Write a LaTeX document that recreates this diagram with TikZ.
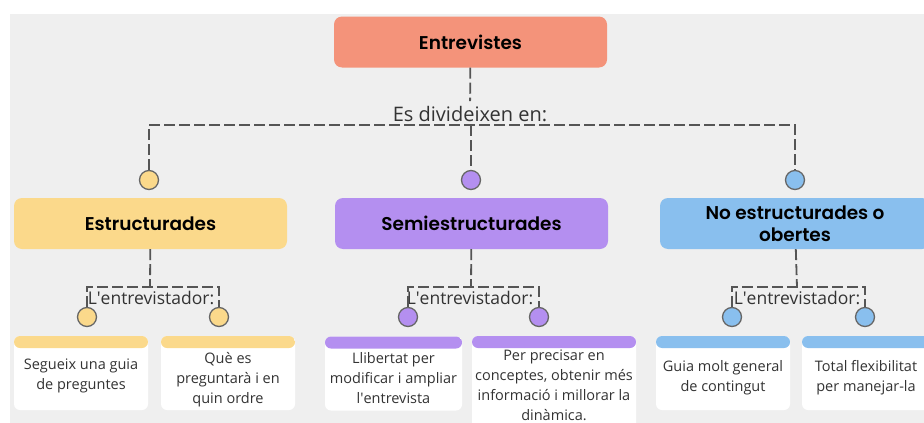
\documentclass[tikz,border=0pt]{standalone}
\usepackage{fontspec}
\setmainfont{Open Sans}
\newfontfamily\titlefont{Poppins}[UprightFont=* SemiBold]
\usetikzlibrary{positioning}

\definecolor{rootcol}{HTML}{F4937A}
\definecolor{yelcol}{HTML}{FBD98B}
\definecolor{purcol}{HTML}{B48FF0}
\definecolor{blucol}{HTML}{89BFEE}
\definecolor{bggray}{HTML}{EFEFEF}
\definecolor{linegray}{HTML}{555555}
\definecolor{dotline}{HTML}{666666}
\definecolor{textdark}{HTML}{333333}

\tikzset{
  conn/.style={draw=linegray, line width=1.8pt, dash pattern=on 11pt off 4pt},
  titlebox/.style={rounded corners=8pt, minimum width=273pt, minimum height=51pt, align=center,
    font=\titlefont\fontsize{18.5}{22}\selectfont, text=black, inner sep=0pt},
  dot/.style={circle, draw=dotline, line width=1.3pt, minimum size=19pt, inner sep=0pt},
  leafbox/.style={fill=white, rounded corners=6pt, inner sep=0pt, minimum height=74pt,
    path picture={\fill[#1] (path picture bounding box.north west) rectangle ([yshift=-12pt]path picture bounding box.north east);}},
  leaftext/.style={align=center, text=textdark, font=\fontsize{14.5}{20}\selectfont, inner sep=0pt},
  sublabel/.style={text=textdark, font=\fontsize{17.5}{20}\selectfont, inner sep=0pt},
}

\begin{document}
\begin{tikzpicture}[x=1pt,y=-1pt]
  \clip (0,0) rectangle (924,423);
  \fill[white] (0,0) rectangle (924,423);
  \fill[bggray] (10,14) rectangle (924,423);

  % top level
  \node[titlebox, fill=rootcol] (root) at (470.5,42) {Entrevistes};
  \node[text=textdark, font=\fontsize{20}{22}\selectfont, inner xsep=0pt, inner ysep=5pt, anchor=south] (divlbl) at (470,127) {Es divideixen en:};
  \coordinate (bus) at (471,125);

  \node[dot, fill=yelcol] (dotE) at (149,180) {};
  \node[dot, fill=purcol] (dotS) at (471,180) {};
  \node[dot, fill=blucol] (dotN) at (795,180) {};

  \draw[conn] (root) -- (divlbl);
  \draw[conn] (dotE) |- (bus) -| (dotN);
  \draw[conn] (bus) -- (dotS);

  % second level
  \node[titlebox, fill=yelcol] (boxE) at (150.5,223.5) {Estructurades};
  \node[titlebox, fill=purcol] (boxS) at (471.5,223.5) {Semiestructurades};
  \node[titlebox, fill=blucol, minimum width=270pt] (boxN) at (795,223.5) {No estructurades o\\obertes};

  \coordinate (forkE) at (150,287);
  \coordinate (forkS) at (471,287);
  \coordinate (forkN) at (797,287);

  \node[sublabel] (lblE) at (151,298) {L\textquotesingle entrevistador:};
  \node[sublabel] (lblS) at (470,298) {L\textquotesingle entrevistador:};
  \node[sublabel] (lblN) at (797,298) {L\textquotesingle entrevistador:};

  \node[dot, fill=yelcol] (dotE1) at (87,317) {};
  \node[dot, fill=yelcol] (dotE2) at (219,317) {};
  \node[dot, fill=purcol] (dotS1) at (408,317) {};
  \node[dot, fill=purcol] (dotS2) at (539,317) {};
  \node[dot, fill=blucol] (dotN1) at (732,317) {};
  \node[dot, fill=blucol] (dotN2) at (865,317) {};

  \draw[conn] (boxE) -- (forkE);
  \draw[conn] (dotE1) |- (forkE) -| (dotE2);
  \draw[conn] (boxS) -- (forkS);
  \draw[conn] (dotS1) |- (forkS) -| (dotS2);
  \draw[conn] (boxN) -- (forkN);
  \draw[conn] (dotN1) |- (forkN) -| (dotN2);

  % leaves
  \node[leafbox=yelcol, minimum width=134pt] (leafE1) at (81,373) {};
  \node[leafbox=yelcol, minimum width=134pt] (leafE2) at (228,373) {};
  \node[leafbox=purcol, minimum width=137pt] (leafS1) at (393.5,373.5) {};
  \node[leafbox=purcol, minimum width=164pt, minimum height=104pt] (leafS2) at (554,388) {};
  \node[leafbox=blucol, minimum width=134pt] (leafN1) at (723,373) {};
  \node[leafbox=blucol, minimum width=128pt] (leafN2) at (866,373) {};

  \node[leaftext] (txtE1) at ([yshift=-3pt]leafE1.center) {Segueix una guia\\de preguntes};
  \node[leaftext] (txtE2) at ([yshift=-7pt]leafE2.center) {Què es\\preguntarà i en\\quin ordre};
  \node[leaftext] (txtS1) at ([yshift=-4.5pt]leafS1.center) {Llibertat per\\modificar i ampliar\\l\textquotesingle entrevista};
  \node[leaftext] (txtS2) at ([yshift=3pt]leafS2.center) {Per precisar en\\conceptes, obtenir més\\informació i millorar la\\dinàmica.};
  \node[leaftext] (txtN1) at ([yshift=-5pt]leafN1.center) {Guia molt general\\de contingut};
  \node[leaftext] (txtN2) at ([yshift=-5pt]leafN2.center) {Total flexibilitat\\per manejar-la};
\end{tikzpicture}
\end{document}
